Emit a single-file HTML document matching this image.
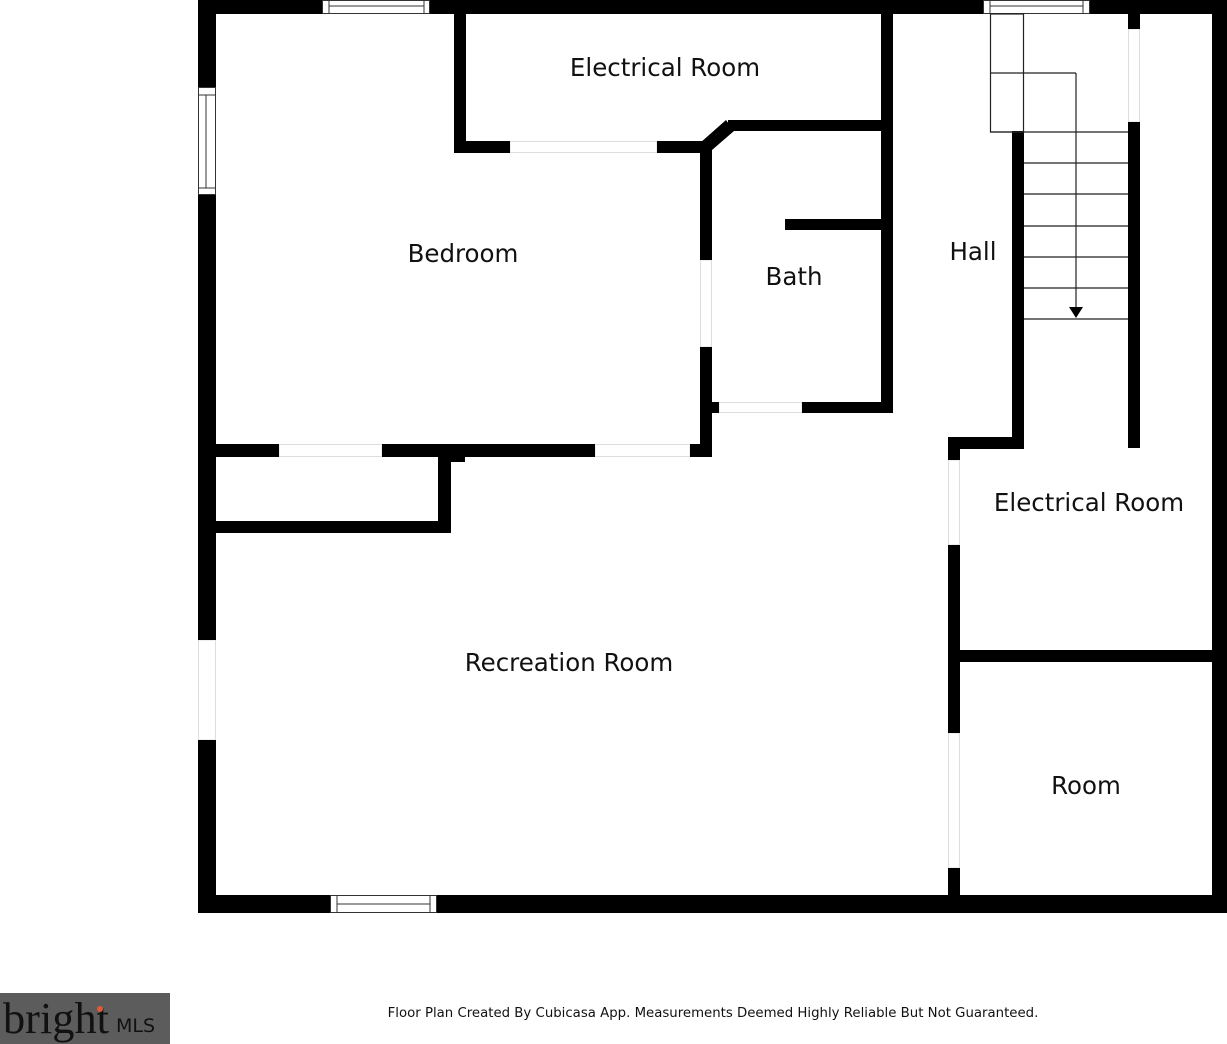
<!DOCTYPE html>
<html><head><meta charset="utf-8"><style>
html,body{margin:0;padding:0;background:#fff}
svg{display:block}
text{font-family:"DejaVu Sans","Liberation Sans",sans-serif;fill:#111}
</style></head><body>
<svg width="1227" height="1044" viewBox="0 0 1227 1044" xmlns="http://www.w3.org/2000/svg">
<!-- faint door openings -->
<g fill="none" stroke="#ddd" stroke-width="1">
<rect x="510" y="141.5" width="147" height="11"/>
<rect x="279" y="444.5" width="103" height="12"/>
<rect x="595" y="444.5" width="95" height="12"/>
<rect x="719" y="402.5" width="83" height="10"/>
<rect x="700.5" y="260" width="11" height="87"/>
<rect x="948.5" y="460" width="11" height="85"/>
<rect x="948.5" y="733" width="11" height="135"/>
<rect x="198.5" y="640" width="17" height="100"/>
<rect x="1128.5" y="29" width="11" height="93"/>
</g>
<g fill="#000">
<rect x="198" y="0" width="124" height="14"/>
<rect x="430" y="0" width="553" height="14"/>
<rect x="1090" y="0" width="137" height="14"/>
<rect x="198" y="0" width="18" height="87"/>
<rect x="198" y="195" width="18" height="445"/>
<rect x="198" y="740" width="18" height="173"/>
<rect x="198" y="895" width="132" height="18"/>
<rect x="437" y="895" width="790" height="18"/>
<rect x="1212" y="0" width="15" height="913"/>
<rect x="454" y="14" width="12" height="139"/>
<rect x="454" y="141" width="56" height="12"/>
<rect x="657" y="141" width="50" height="12"/>
<polygon points="700,143 726,120 734,131 712,150"/>
<rect x="728" y="120" width="165" height="11"/>
<rect x="881" y="14" width="12" height="399"/>
<rect x="700" y="141" width="12" height="119"/>
<rect x="700" y="347" width="12" height="110"/>
<rect x="712" y="402" width="7" height="11"/>
<rect x="802" y="402" width="91" height="11"/>
<rect x="785" y="219" width="96" height="11"/>
<rect x="216" y="444" width="63" height="13"/>
<rect x="382" y="444" width="213" height="13"/>
<rect x="690" y="444" width="22" height="13"/>
<rect x="438" y="457" width="13" height="76"/>
<rect x="451" y="457" width="14" height="5"/>
<rect x="216" y="521" width="235" height="12"/>
<rect x="1012" y="131" width="12" height="318"/>
<rect x="948" y="437" width="76" height="12"/>
<rect x="948" y="437" width="12" height="23"/>
<rect x="948" y="545" width="12" height="188"/>
<rect x="948" y="868" width="12" height="45"/>
<rect x="1128" y="14" width="12" height="15"/>
<rect x="1128" y="122" width="12" height="326"/>
<rect x="948" y="650" width="264" height="12"/>
</g>
<g fill="#fff" stroke="#333" stroke-width="1">
<rect x="322.5" y="0.5" width="107" height="13"/>
<line x1="329" y1="0" x2="329" y2="14"/><line x1="424" y1="0" x2="424" y2="14"/>
<line x1="329" y1="6" x2="424" y2="6"/>
<rect x="983.5" y="0.5" width="106" height="13"/>
<line x1="990" y1="0" x2="990" y2="14"/><line x1="1083" y1="0" x2="1083" y2="14"/>
<line x1="990" y1="6" x2="1083" y2="6"/>
<rect x="198.5" y="87.5" width="17" height="107"/>
<line x1="198" y1="95" x2="216" y2="95"/><line x1="198" y1="188" x2="216" y2="188"/>
<line x1="206" y1="95" x2="206" y2="188"/>
<rect x="330.5" y="895.5" width="106" height="17"/>
<line x1="337" y1="895" x2="337" y2="913"/><line x1="430" y1="895" x2="430" y2="913"/>
<line x1="337" y1="904" x2="430" y2="904"/>
</g>
<g stroke="#222" stroke-width="1.2" fill="none">
<rect x="990.5" y="14" width="33" height="118"/>
<line x1="990" y1="73" x2="1076" y2="73"/>
<line x1="990" y1="132" x2="1128" y2="132"/>
<line x1="1024" y1="163" x2="1128" y2="163"/>
<line x1="1024" y1="194" x2="1128" y2="194"/>
<line x1="1024" y1="226" x2="1128" y2="226"/>
<line x1="1024" y1="257" x2="1128" y2="257"/>
<line x1="1024" y1="288" x2="1128" y2="288"/>
<line x1="1024" y1="319" x2="1128" y2="319"/>
<line x1="1076" y1="73" x2="1076" y2="310"/>
</g>
<polygon points="1069,307 1083,307 1076,318" fill="#000"/>
<g font-size="24.5" text-anchor="middle">
<text x="665" y="76">Electrical Room</text>
<text x="463" y="262">Bedroom</text>
<text x="794" y="285">Bath</text>
<text x="973" y="260">Hall</text>
<text x="1089" y="511">Electrical Room</text>
<text x="569" y="671">Recreation Room</text>
<text x="1086" y="794">Room</text>
</g>
<text x="713" y="1017" font-size="13.3" text-anchor="middle">Floor Plan Created By Cubicasa App. Measurements Deemed Highly Reliable But Not Guaranteed.</text>
<rect x="0" y="993" width="170" height="51" fill="#5c5c5c"/>
<text x="3" y="1033" font-size="44" style="font-family:'Liberation Serif',serif" fill="#ddd" textLength="106" lengthAdjust="spacingAndGlyphs">bright</text>
<circle cx="100" cy="1009" r="3" fill="#e05a3a"/>
<text x="116" y="1032" font-size="19" fill="#ddd">MLS</text>
</svg>
</body></html>
